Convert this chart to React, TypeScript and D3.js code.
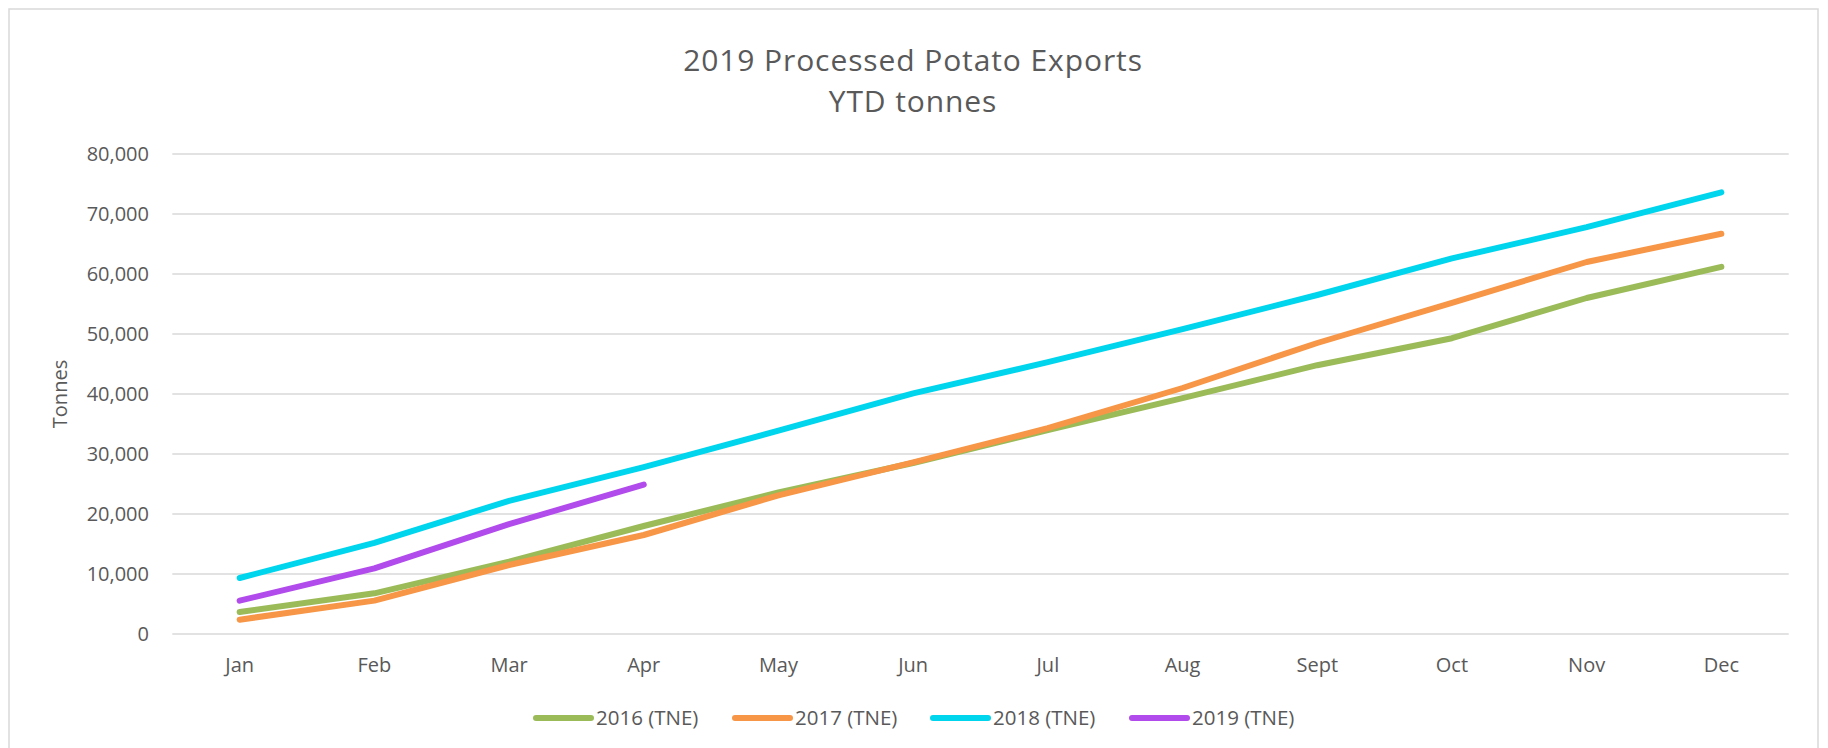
import React from "react";
import * as d3 from "d3";

const months = ["Jan", "Feb", "Mar", "Apr", "May", "Jun", "Jul", "Aug", "Sept", "Oct", "Nov", "Dec"];
const yTicks = [0, 10000, 20000, 30000, 40000, 50000, 60000, 70000, 80000];

const s2016 = [3670, 6780, 12060, 18000, 23600, 28500, 34000, 39300, 44800, 49300, 56000, 61200];
const s2017 = [2390, 5560, 11500, 16500, 23100, 28600, 34300, 41000, 48500, 55200, 62000, 66700];
const s2018 = [9330, 15200, 22200, 27800, 33900, 40100, 45300, 50800, 56500, 62600, 67800, 73600];
const s2019 = [5550, 10950, 18300, 24900];

const seriesNames = ["2016 (TNE)", "2017 (TNE)", "2018 (TNE)", "2019 (TNE)"];
const seriesValues = [s2016, s2017, s2018, s2019];
const seriesColors = ["#9BBB59", "#F79646", "#00D5EE", "#B14BEB"];

const titleLines = ["2019 Processed Potato Exports", "YTD tonnes"];

const W = 1828;
const H = 748;
const FONT = "'Open Sans', 'Noto Sans', sans-serif";
const TEXT = "#595959";

export default function App() {
  const x = d3.scaleBand<string>().domain(months).range([172.3, 1788.7]);
  const cx = (m: string) => (x(m) as number) + x.bandwidth() / 2;
  const y = d3.scaleLinear().domain([0, 80000]).range([634, 154]);
  const fmt = d3.format(",");

  const line = d3
    .line<number>()
    .x((_, i) => cx(months[i]))
    .y((d) => y(d));

  const legendX = [536, 735, 933, 1132];
  const legendY = 718;

  return (
    <svg
      width={W}
      height={H}
      style={{ position: "fixed", left: 0, top: 0, background: "#fff" }}
      fontFamily={FONT}
    >
      <rect x={0} y={0} width={W} height={H} fill="#fff" />
      <rect x={9} y={9} width={1809} height={760} fill="#fff" stroke="#d9d9d9" strokeWidth={1.5} />

      <text x={913} y={71} textAnchor="middle" fontSize={30} fill={TEXT} letterSpacing={0.9}>
        {titleLines[0]}
      </text>
      <text x={913} y={112} textAnchor="middle" fontSize={30} fill={TEXT} letterSpacing={0.9}>
        {titleLines[1]}
      </text>

      {yTicks.map((t) => (
        <g key={t}>
          <line x1={172.3} x2={1788.7} y1={y(t)} y2={y(t)} stroke="#d9d9d9" strokeWidth={1.5} />
          <text x={149} y={y(t) + 7} textAnchor="end" fontSize={20} fill={TEXT}>
            {fmt(t)}
          </text>
        </g>
      ))}

      {months.map((m) => (
        <text key={m} x={cx(m)} y={672} textAnchor="middle" fontSize={20} fill={TEXT}>
          {m}
        </text>
      ))}

      <text
        transform={`translate(67,394) rotate(-90)`}
        textAnchor="middle"
        fontSize={20}
        fill={TEXT}
      >
        Tonnes
      </text>

      {seriesValues.map((vals, i) => (
        <path
          key={seriesNames[i]}
          d={line(vals) as string}
          fill="none"
          stroke={seriesColors[i]}
          strokeWidth={6}
          strokeLinecap="round"
          strokeLinejoin="round"
        />
      ))}

      {seriesNames.map((n, i) => (
        <g key={n}>
          <line
            x1={legendX[i]}
            x2={legendX[i] + 55}
            y1={legendY}
            y2={legendY}
            stroke={seriesColors[i]}
            strokeWidth={6}
            strokeLinecap="round"
          />
          <text x={legendX[i] + 60} y={legendY + 7} fontSize={20.5} fill={TEXT}>
            {n}
          </text>
        </g>
      ))}
    </svg>
  );
}
